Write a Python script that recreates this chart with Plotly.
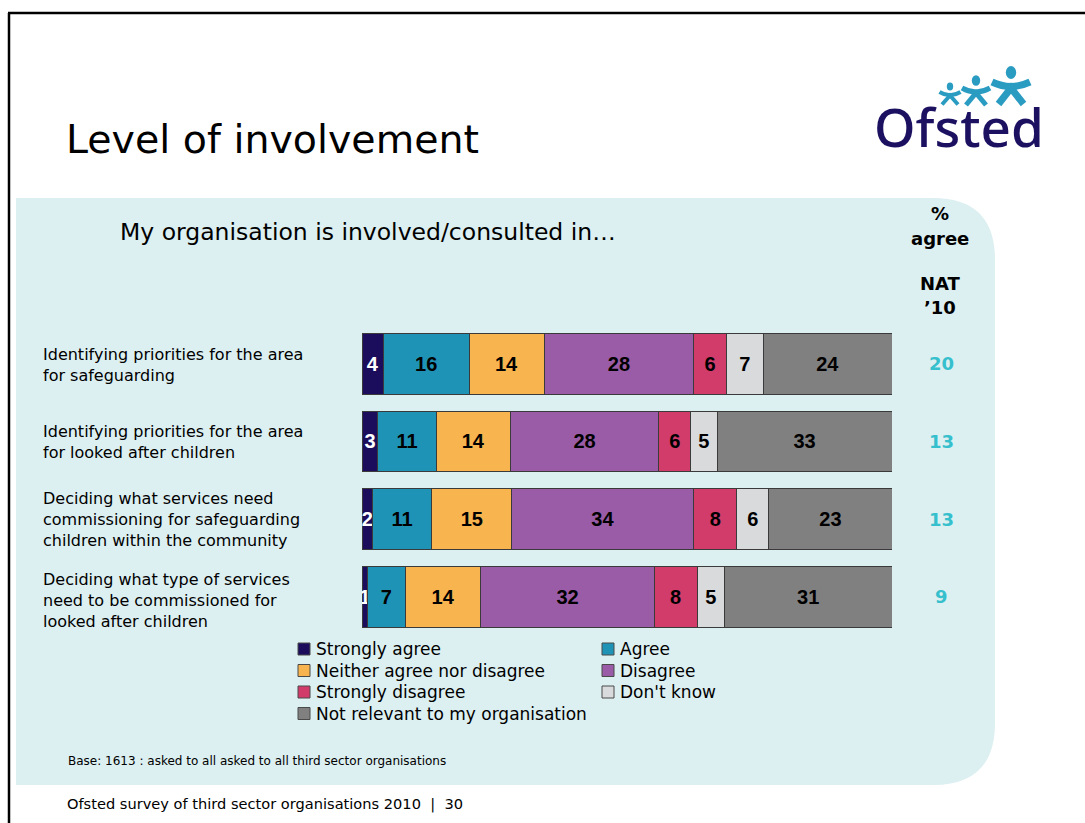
import plotly.graph_objects as go

# ---- data -------------------------------------------------------------
statements = [
    "Identifying priorities for the area<br>for safeguarding",
    "Identifying priorities for the area<br>for looked after children",
    "Deciding what services need<br>commissioning for safeguarding<br>children within the community",
    "Deciding what type of services<br>need to be commissioned for<br>looked after children",
]
responses = [
    "Strongly agree", "Agree", "Neither agree nor disagree", "Disagree",
    "Strongly disagree", "Don't know", "Not relevant to my organisation",
]
strongly_agree = [4, 3, 2, 1]
agree = [16, 11, 11, 7]
neither = [14, 14, 15, 14]
disagree = [28, 28, 34, 32]
strongly_disagree = [6, 6, 8, 8]
dont_know = [7, 5, 6, 5]
not_relevant = [24, 33, 23, 31]
pct_agree_nat10 = [20, 13, 13, 9]

series = [strongly_agree, agree, neither, disagree,
          strongly_disagree, dont_know, not_relevant]
colors = ["#1B0C5C", "#1F93B6", "#F8B44E", "#9A5CA6",
          "#D13C6A", "#D9DADC", "#808080"]
label_colors = ["white"] + ["black"] * 6

# ---- canvas helpers (pixel -> paper) ----------------------------------
W, H = 1085, 823


def px(x):
    return x / W


def py(y):
    return 1 - y / H


BODY = "DejaVu Sans, Tahoma, Verdana, sans-serif"
BAR_FONT = "Liberation Sans, Arial, sans-serif"

fig = go.Figure()

for name, vals, col, lc in zip(responses, series, colors, label_colors):
    fig.add_trace(go.Bar(
        y=statements, x=vals, name=name, orientation="h",
        marker=dict(color=col, line=dict(color="#3A3A3A", width=1)),
        text=vals, texttemplate="<b>%{text}</b>",
        textposition="inside", insidetextanchor="middle",
        constraintext="none", textangle=0,
        textfont=dict(family=BAR_FONT, size=20, color=lc),
        showlegend=False, hoverinfo="name+x",
    ))

shapes = []
annotations = []

# light panel with rounded right-hand corners
r = 62
x0, x1, y0, y1 = 16, 995, 198, 785
panel = (f"M {px(x0)},{py(y0)} L {px(x1 - r)},{py(y0)} "
         f"Q {px(x1)},{py(y0)} {px(x1)},{py(y0 + r)} "
         f"L {px(x1)},{py(y1 - r)} "
         f"Q {px(x1)},{py(y1)} {px(x1 - r)},{py(y1)} "
         f"L {px(x0)},{py(y1)} Z")
shapes.append(dict(type="path", xref="paper", yref="paper", path=panel,
                   fillcolor="#DCEFF1", line=dict(width=0), layer="below"))

# slide frame lines
shapes.append(dict(type="line", xref="paper", yref="paper",
                   x0=px(8), x1=1, y0=py(13), y1=py(13),
                   line=dict(color="black", width=2.5)))
shapes.append(dict(type="line", xref="paper", yref="paper",
                   x0=px(9), x1=px(9), y0=py(13), y1=0,
                   line=dict(color="black", width=2.5)))

# Ofsted logo figures
teal_logo = "#2A9CC2"
figures = [
    # head x, head y, head r, arm half-span, arm y, body y, leg half-span, leg y, stroke
    (950, 86.5, 3.2, 10.5, 92, 96.5, 8, 104.5, 4),
    (976, 80.5, 4.2, 14, 88, 94, 10, 105, 5),
    (1011, 72.5, 5.2, 19, 82, 89, 12.5, 104, 7),
]
for hx, hy, hr, arm, ay, by, leg, ly, sw in figures:
    shapes.append(dict(type="circle", xref="paper", yref="paper",
                       x0=px(hx - hr), x1=px(hx + hr),
                       y0=py(hy + hr * 1.25), y1=py(hy - hr * 1.25),
                       fillcolor=teal_logo, line=dict(width=0)))
    shapes.append(dict(type="path", xref="paper", yref="paper",
                       path=(f"M {px(hx - arm)},{py(ay)} "
                             f"Q {px(hx)},{py(by + 2)} {px(hx + arm)},{py(ay)}"),
                       line=dict(color=teal_logo, width=sw)))
    shapes.append(dict(type="path", xref="paper", yref="paper",
                       path=(f"M {px(hx - leg)},{py(ly)} L {px(hx)},{py(by - 1)} "
                             f"L {px(hx + leg)},{py(ly)}"),
                       line=dict(color=teal_logo, width=sw)))

annotations.append(dict(text="Ofsted", xref="paper", yref="paper",
                        x=px(872), y=py(127), xanchor="left", yanchor="middle",
                        showarrow=False,
                        font=dict(family="Noto Sans, sans-serif", size=53,
                                  weight=500, color="#1B1160")))

# titles
annotations.append(dict(text="Level of involvement", xref="paper", yref="paper",
                        x=px(64), y=py(139), xanchor="left", yanchor="middle",
                        showarrow=False,
                        font=dict(family=BODY, size=39.5, color="black")))
annotations.append(dict(text="My organisation is involved/consulted in…",
                        xref="paper", yref="paper",
                        x=px(118), y=py(232), xanchor="left", yanchor="middle",
                        showarrow=False,
                        font=dict(family=BODY, size=23.5, color="black")))

# % agree column header
for txt, yy in [("%", 213), ("agree", 238), ("NAT", 283), ("’10", 307)]:
    annotations.append(dict(text=f"<b>{txt}</b>", xref="paper", yref="paper",
                            x=px(940), y=py(yy), xanchor="center",
                            yanchor="middle", showarrow=False,
                            font=dict(family=BODY, size=18, color="black")))

# row labels and % agree values
label_shift = [-1, -1, 0, -4]
for stmt, val, ys in zip(statements, pct_agree_nat10, label_shift):
    annotations.append(dict(text=stmt, xref="paper", yref="y",
                            x=px(41), y=stmt, xanchor="left", yanchor="middle",
                            align="left", showarrow=False, yshift=ys,
                            font=dict(family=BODY, size=16, color="black")))
    annotations.append(dict(text=f"<b>{val}</b>", xref="paper", yref="y",
                            x=px(941), y=stmt, xanchor="center",
                            yanchor="middle", showarrow=False,
                            font=dict(family=BODY, size=18, color="#36BFCC")))

# legend, two columns
leg_cols = [298, 602]
leg_rows = [649, 670.5, 692, 713.5]
sq = 12
for i, (name, col) in enumerate(zip(responses, colors)):
    cx = leg_cols[i % 2]
    cy = leg_rows[i // 2]
    shapes.append(dict(type="rect", xref="paper", yref="paper",
                       x0=px(cx), x1=px(cx + sq),
                       y0=py(cy + sq / 2), y1=py(cy - sq / 2),
                       fillcolor=col, line=dict(color="#4A4A4A", width=1)))
    annotations.append(dict(text=name, xref="paper", yref="paper",
                            x=px(cx + 16), y=py(cy), xanchor="left",
                            yanchor="middle", showarrow=False,
                            font=dict(family=BODY, size=17, color="black")))

# base note and footer
annotations.append(dict(text="Base: 1613 : asked to all asked to all third sector organisations",
                        xref="paper", yref="paper", x=px(66), y=py(761),
                        xanchor="left", yanchor="middle", showarrow=False,
                        font=dict(family=BODY, size=12, color="black")))
annotations.append(dict(text="Ofsted survey of third sector organisations 2010  |  30",
                        xref="paper", yref="paper", x=px(65), y=py(804),
                        xanchor="left", yanchor="middle", showarrow=False,
                        font=dict(family=BODY, size=14.6, color="black")))

row_gap = 77.7
top_c, bot_c = 363.7, 596.8
fig.update_layout(
    width=W, height=H, autosize=False,
    margin=dict(l=0, r=0, t=0, b=0),
    paper_bgcolor="white", plot_bgcolor="rgba(0,0,0,0)",
    barmode="stack", barnorm="percent", bargap=0.22,
    xaxis=dict(domain=[px(362), px(892)], range=[0, 100],
               showgrid=False, zeroline=False, showticklabels=False,
               showline=False, fixedrange=True),
    yaxis=dict(domain=[py(bot_c + row_gap / 2), py(top_c - row_gap / 2)],
               autorange="reversed", showgrid=False, zeroline=False,
               showticklabels=False, showline=False, fixedrange=True),
    shapes=shapes, annotations=annotations,
    font=dict(family=BODY),
)

fig.write_html("out.html")
